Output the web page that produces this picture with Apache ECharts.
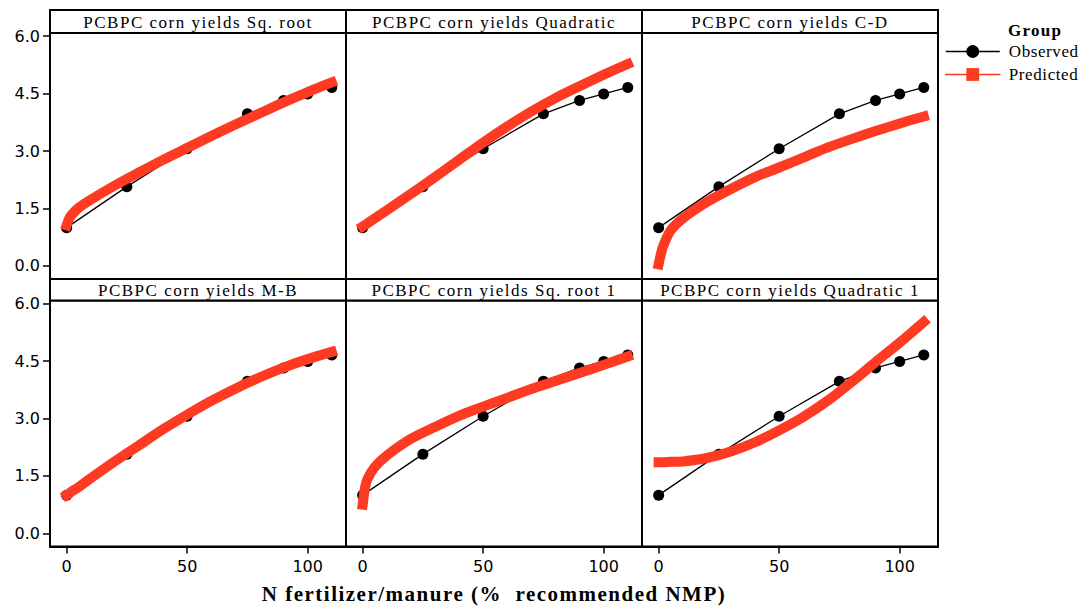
<!DOCTYPE html>
<html><head><meta charset="utf-8">
<script src="https://cdn.jsdelivr.net/npm/echarts@6/dist/echarts.min.js"></script>
<style>html,body{margin:0;padding:0;background:#fff}#c{width:1088px;height:606px}</style>
</head><body><div id="c"></div>
<script>
// ---------- data ----------
const panelTitles = [
  'PCBPC corn yields Sq. root',
  'PCBPC corn yields Quadratic',
  'PCBPC corn yields C-D',
  'PCBPC corn yields M-B',
  'PCBPC corn yields Sq. root 1',
  'PCBPC corn yields Quadratic 1'
];
const obsX = [0, 25, 50, 75, 90, 100, 110];
const obsY = [1.0, 2.07, 3.06, 3.97, 4.32, 4.49, 4.66];
const predX = [0, 1, 2, 5, 10, 20, 30, 40, 50, 60, 70, 80, 90, 100, 110];
const predSqRoot     = [1.06, 1.23, 1.33, 1.52, 1.73, 2.10, 2.44, 2.77, 3.08, 3.39, 3.69, 3.98, 4.27, 4.54, 4.79];
const predQuadratic  = [1.03, 1.07, 1.11, 1.24, 1.45, 1.88, 2.32, 2.77, 3.22, 3.64, 4.03, 4.38, 4.69, 4.99, 5.27];
const predCD         = [0.04, 0.33, 0.54, 0.93, 1.24, 1.67, 2.01, 2.32, 2.57, 2.83, 3.09, 3.31, 3.52, 3.72, 3.90];
const predMB         = [1.00, 1.04, 1.09, 1.21, 1.44, 1.88, 2.30, 2.72, 3.10, 3.46, 3.78, 4.07, 4.33, 4.55, 4.74];
const predSqRoot1    = [0.75, 1.20, 1.42, 1.73, 2.03, 2.47, 2.78, 3.07, 3.31, 3.54, 3.77, 3.98, 4.19, 4.40, 4.62];
const predQuadratic1 = [1.86, 1.86, 1.86, 1.87, 1.88, 1.97, 2.14, 2.38, 2.69, 3.04, 3.46, 3.95, 4.47, 4.98, 5.52];
const predicted = [predSqRoot, predQuadratic, predCD, predMB, predSqRoot1, predQuadratic1];
const xTicks = [0, 50, 100];
const yTicks = [0, 1.5, 3.0, 4.5, 6.0];
const xTitle = 'N fertilizer/manure (%  recommended NMP)';
const legendTitle = 'Group';
const seriesNames = ['Observed', 'Predicted'];

// ---------- layout ----------
const RED = '#FF3A22';
const colLeft = [50, 346, 642];
const panelW = 296;
const rowTop = [33, 300.5];
const stripTop = [10, 279];
const plotH = 246;
const SERIF = '"Liberation Serif", "Times New Roman", serif';
const SANS = '"DejaVu Sans", Verdana, sans-serif';

const grids = [], xAxes = [], yAxes = [], series = [], graphics = [];
for (let i = 0; i < 6; i++) {
  const r = Math.floor(i / 3), c = i % 3;
  grids.push({left: colLeft[c], top: rowTop[r], width: panelW, height: plotH,
    show: true, borderColor: '#000', borderWidth: 2, backgroundColor: '#fff',
    outerBoundsMode: 'none', containLabel: false});
  xAxes.push({type: 'value', gridIndex: i, min: -6.9, max: 115.9, position: 'bottom',
    splitLine: {show: false},
    axisLine: {show: true, onZero: false, lineStyle: {color: '#000', width: 2}},
    axisTick: {show: r === 1, length: 7, inside: false, customValues: xTicks, lineStyle: {color: '#000', width: 1.5}},
    axisLabel: {show: r === 1, customValues: xTicks, margin: 12, color: '#000', fontSize: 16, fontFamily: SANS},
    name: (i === 4) ? xTitle : '', nameLocation: 'middle', nameGap: 37,
    nameTextStyle: {fontFamily: SERIF, fontWeight: 'bold', fontSize: 21, color: '#000'}
  });
  yAxes.push({type: 'value', gridIndex: i, min: -0.34, max: 6.08, position: 'left',
    splitLine: {show: false},
    axisLine: {show: true, onZero: false, lineStyle: {color: '#000', width: 2}},
    axisTick: {show: c === 0, length: 7, inside: false, customValues: yTicks, lineStyle: {color: '#000', width: 1.5}},
    axisLabel: {show: c === 0, customValues: yTicks, margin: 10, color: '#000', fontSize: 16, fontFamily: SANS,
      formatter: v => Number(v).toFixed(1)}
  });
  series.push({type: 'line', name: seriesNames[0], xAxisIndex: i, yAxisIndex: i,
    data: obsX.map((x, j) => [x, obsY[j]]),
    symbol: 'circle', symbolSize: 11, z: 2,
    lineStyle: {color: '#000', width: 1.3}, itemStyle: {color: '#000'}});
  series.push({type: 'line', name: seriesNames[1], xAxisIndex: i, yAxisIndex: i,
    data: predX.map((x, j) => [x, predicted[i][j]]),
    smooth: 0.3,
    symbol: 'rect', showSymbol: false, z: 3,
    lineStyle: {color: RED, width: 10, cap: 'square', join: 'round'}, itemStyle: {color: RED}});
  // strip
  graphics.push({type: 'rect', shape: {x: colLeft[c], y: stripTop[r], width: panelW, height: rowTop[r] - stripTop[r]},
    style: {fill: '#fff', stroke: '#000', lineWidth: 2}, z: 10});
  graphics.push({type: 'text', x: colLeft[c] + panelW / 2, y: (stripTop[r] + rowTop[r]) / 2 + 1,
    style: {text: panelTitles[i], fill: '#000', font: '17px ' + SERIF, textAlign: 'center', textVerticalAlign: 'middle'}, z: 11});
}
graphics.push({type: 'text', x: 1008, y: 30,
  style: {text: legendTitle, fill: '#000', font: 'bold 17px ' + SERIF, textAlign: 'left', textVerticalAlign: 'middle'}, z: 11});

const chart = echarts.init(document.getElementById('c'), null, {renderer: 'svg'});
chart.setOption({
  animation: false,
  backgroundColor: '#fff',
  grid: grids, xAxis: xAxes, yAxis: yAxes, series: series,
  legend: {orient: 'vertical', left: 945, top: 43, padding: 0, itemWidth: 54, itemHeight: 16, itemGap: 6,
    data: seriesNames,
    lineStyle: {width: 1.5},
    textStyle: {fontFamily: SERIF, fontSize: 17, color: '#000', padding: [0, 0, 0, 4]}},
  graphic: graphics
});

// letter spacing of the serif labels, as in the reference typesetting
function applySpacing() {
  document.querySelectorAll('#c text').forEach(t => {
    const s = t.textContent;
    let ls = null;
    if (panelTitles.indexOf(s) >= 0) ls = '1.5px';
    else if (s === xTitle) ls = '1.5px';
    else if (seriesNames.indexOf(s) >= 0) ls = '0.6px';
    else if (s === legendTitle) ls = '1.3px';
    if (ls) t.setAttribute('letter-spacing', ls);
  });
}
applySpacing();
chart.on('finished', applySpacing);
</script></body></html>
